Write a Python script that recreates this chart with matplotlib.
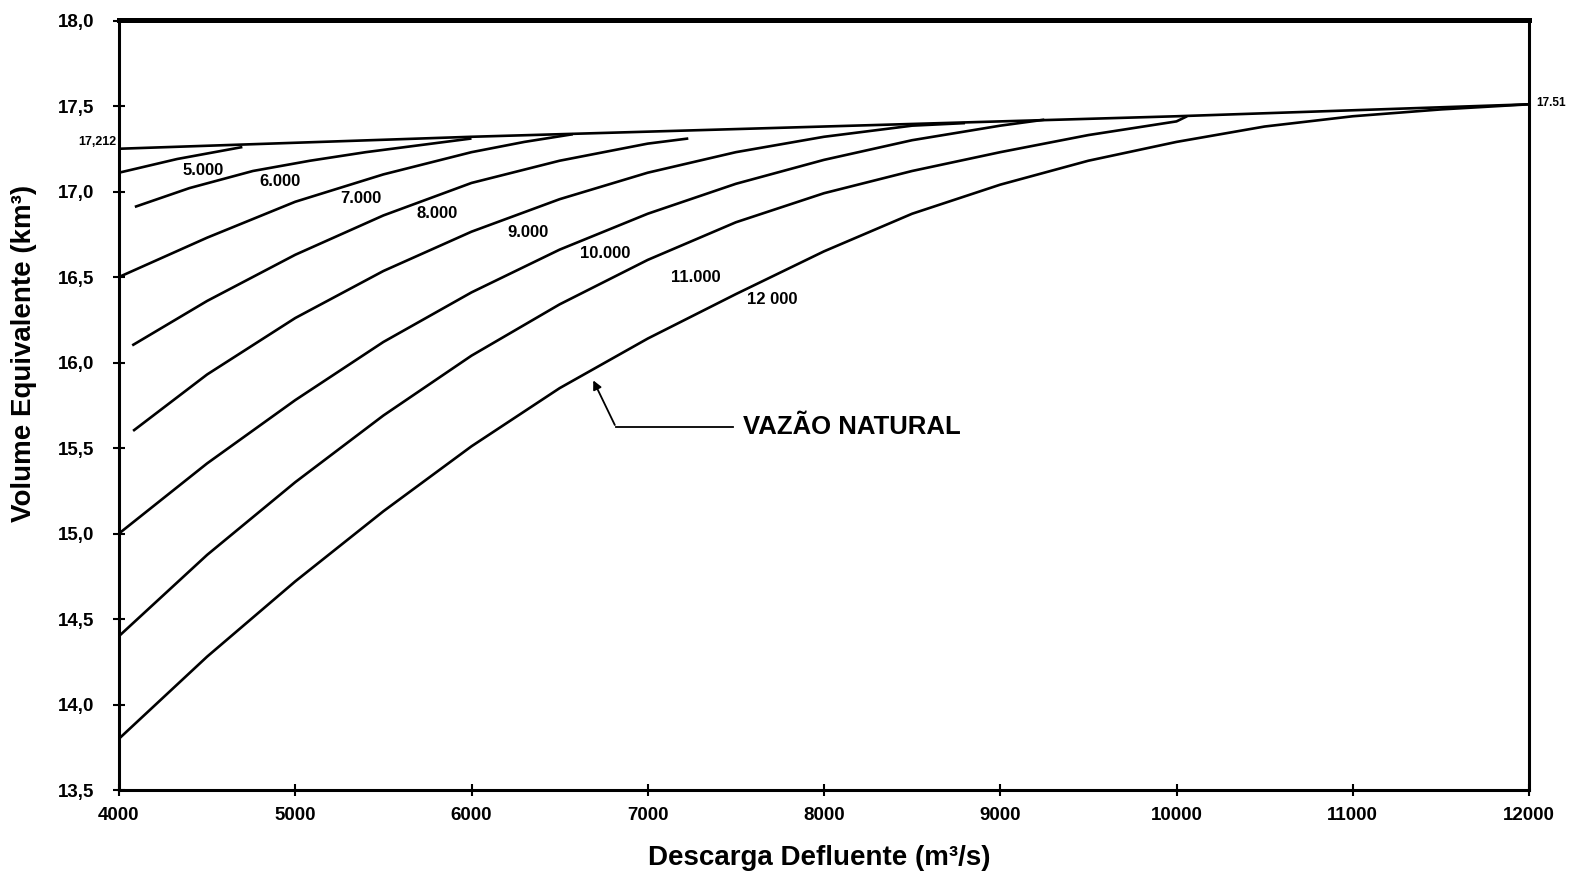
import matplotlib
matplotlib.use("Agg")
import matplotlib.pyplot as plt

plt.rcParams['font.family'] = ['Liberation Sans', 'DejaVu Sans']

# ---- data ----
env_x = [4000, 5000, 6000, 7000, 8000, 9000, 10000, 11000, 12000]
env_y = [17.25, 17.285, 17.32, 17.35, 17.38, 17.41, 17.44, 17.475, 17.51]

q5000_x = [4000, 4330, 4700]
q5000_y = [17.11, 17.19, 17.26]

q6000_x = [4090, 4400, 4760, 5084, 5400, 5700, 6000]
q6000_y = [16.91, 17.02, 17.12, 17.18, 17.23, 17.27, 17.31]

q7000_x = [4000, 4500, 5000, 5500, 6000, 6300, 6575]
q7000_y = [16.50, 16.73, 16.94, 17.10, 17.23, 17.29, 17.335]

q8000_x = [4075, 4500, 5000, 5500, 6000, 6500, 7000, 7230]
q8000_y = [16.10, 16.36, 16.63, 16.86, 17.05, 17.18, 17.28, 17.31]

q9000_x = [4080, 4500, 5000, 5500, 6000, 6500, 7000, 7500, 8000, 8500, 8800]
q9000_y = [15.60, 15.93, 16.26, 16.535, 16.765, 16.955, 17.11, 17.23, 17.32, 17.385, 17.40]

q10000_x = [4000, 4500, 5000, 5500, 6000, 6500, 7000, 7500, 8000, 8500, 9000, 9250]
q10000_y = [15.00, 15.41, 15.78, 16.12, 16.41, 16.66, 16.87, 17.045, 17.185, 17.30, 17.385, 17.42]

q11000_x = [4000, 4500, 5000, 5500, 6000, 6500, 7000, 7500, 8000, 8500, 9000, 9500, 10000, 10060]
q11000_y = [14.40, 14.875, 15.30, 15.69, 16.04, 16.34, 16.60, 16.82, 16.99, 17.12, 17.23, 17.33, 17.41, 17.44]

q12000_x = [4000, 4500, 5000, 5500, 6000, 6500, 7000, 7500, 8000, 8500, 9000, 9500, 10000, 10500, 11000, 11500, 12000]
q12000_y = [13.80, 14.28, 14.72, 15.13, 15.51, 15.85, 16.14, 16.40, 16.65, 16.87, 17.04, 17.18, 17.29, 17.38, 17.44, 17.48, 17.51]

curves = [(q5000_x, q5000_y), (q6000_x, q6000_y), (q7000_x, q7000_y),
          (q8000_x, q8000_y), (q9000_x, q9000_y), (q10000_x, q10000_y),
          (q11000_x, q11000_y), (q12000_x, q12000_y)]

curve_labels = ['5.000', '6.000', '7.000', '8.000', '9.000', '10.000', '11.000', '12 000']
label_x = [4478, 4911, 5372, 5804, 6323, 6761, 7274, 7706]
label_y = [17.12, 17.06, 16.96, 16.87, 16.76, 16.64, 16.50, 16.37]

x_ticks = [4000, 5000, 6000, 7000, 8000, 9000, 10000, 11000, 12000]
y_ticks = [13.5, 14.0, 14.5, 15.0, 15.5, 16.0, 16.5, 17.0, 17.5, 18.0]
y_ticklabels = ['13,5', '14,0', '14,5', '15,0', '15,5', '16,0', '16,5', '17,0', '17,5', '18,0']

# ---- figure ----
fig = plt.figure(figsize=(15.93, 8.80), dpi=100)
ax = fig.add_axes([119 / 1593, 1 - 790 / 880, (1529 - 119) / 1593, (790 - 20.5) / 880])

ax.plot(env_x, env_y, color='black', lw=1.9, solid_capstyle='butt')
for cx, cy in curves:
    ax.plot(cx, cy, color='black', lw=1.9, solid_capstyle='butt', solid_joinstyle='round')

for t, lx, ly in zip(curve_labels, label_x, label_y):
    ax.text(lx, ly, t, fontsize=12, fontweight='bold', ha='center', va='center')

ax.set_xlim(4000, 12000)
ax.set_ylim(13.5, 18.0)
ax.set_xticks(x_ticks)
ax.set_xticklabels([str(v) for v in x_ticks], fontsize=13.5, fontweight='bold')
ax.set_yticks(y_ticks)
ax.set_yticklabels(y_ticklabels, fontsize=13.5, fontweight='bold')
ax.tick_params(direction='inout', length=8, width=1.5)
ax.tick_params(axis='x', pad=8)
ax.tick_params(axis='y', pad=14)

for side in ['left', 'right', 'bottom']:
    ax.spines[side].set_linewidth(2.2)
ax.spines['top'].set_linewidth(3.6)

ax.set_xlabel('Descarga Defluente (m³/s)', fontsize=20, fontweight='bold', va='top')
ax.xaxis.set_label_coords(0.4965, -0.071)
ax.set_ylabel('Volume Equivalente (km³)', fontsize=20, fontweight='bold')
ax.yaxis.set_label_coords(-0.058, 0.567)

# special value labels
ax.text(3985, env_y[0] + 0.04, '17,212', fontsize=9, fontweight='bold', ha='right', va='center')
ax.text(12040, env_y[-1] + 0.01, '17.51', fontsize=8.5, fontweight='bold', ha='left', va='center',
        clip_on=False)

# natural flow annotation
ax.annotate('', xy=(6684, 15.91), xytext=(6820, 15.62),
            arrowprops=dict(arrowstyle='-|>', color='black', lw=1.3, mutation_scale=13))
ax.plot([6820, 7484], [15.62, 15.62], color='black', lw=1.3)
ax.text(7540, 15.62, 'VAZÃO NATURAL', fontsize=18.5, fontweight='bold', ha='left', va='center')

fig.savefig('out.png', dpi=100)
